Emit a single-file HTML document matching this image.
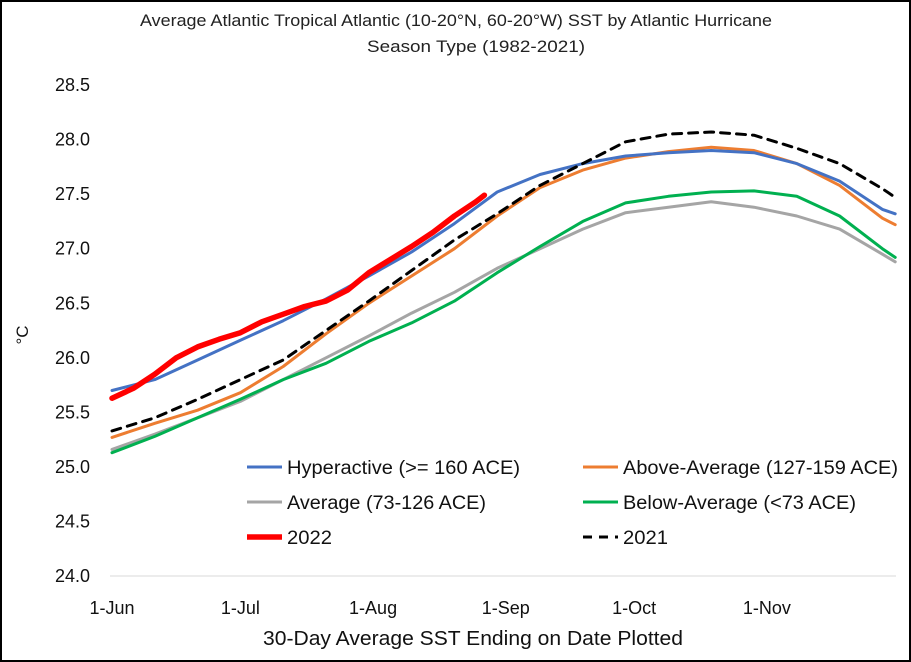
<!DOCTYPE html>
<html><head><meta charset="utf-8"><style>
html,body{margin:0;padding:0;background:#fff}
svg{display:block;font-family:"Liberation Sans",Calibri,sans-serif}
</style></head><body>
<svg id="chart" width="911" height="662" viewBox="0 0 911 662">
<rect x="1" y="1" width="909" height="660" fill="#fff" stroke="#000" stroke-width="2"/>
<text x="140" y="26" textLength="632" lengthAdjust="spacingAndGlyphs" font-size="16.5" fill="#222">Average Atlantic Tropical Atlantic (10-20°N, 60-20°W) SST by Atlantic Hurricane</text>
<text x="367" y="52" textLength="218" lengthAdjust="spacingAndGlyphs" font-size="16.5" fill="#222">Season Type (1982-2021)</text>
<g id="grid"></g><g id="ylabels"></g><g id="xlabels"></g><g id="series"></g>
<text x="0" y="0" transform="translate(28,335) rotate(-90)" text-anchor="middle" font-size="17" fill="#111">°C</text>
<text x="263" y="645" textLength="420" lengthAdjust="spacingAndGlyphs" font-size="20" fill="#111">30-Day Average SST Ending on Date Plotted</text>
<g id="legend"></g>
</svg>
<script>
const yTicks=[24.0,24.5,25.0,25.5,26.0,26.5,27.0,27.5,28.0,28.5];
const xTickDays=[0,30,61,92,122,153];
const xTickLabels=["1-Jun","1-Jul","1-Aug","1-Sep","1-Oct","1-Nov"];
const days=[0,10,20,30,40,50,60,70,80,90,100,110,120,130,140,150,160,170,180,183];
const hyperactive=[25.70,25.80,25.98,26.16,26.34,26.54,26.75,26.97,27.23,27.52,27.68,27.78,27.85,27.88,27.90,27.88,27.78,27.62,27.36,27.32];
const aboveAvg=[25.27,25.40,25.52,25.68,25.92,26.22,26.50,26.75,27.00,27.30,27.56,27.72,27.83,27.89,27.93,27.90,27.78,27.58,27.28,27.22];
const average=[25.16,25.30,25.45,25.60,25.80,26.00,26.20,26.41,26.60,26.82,27.00,27.18,27.33,27.38,27.43,27.38,27.30,27.18,26.95,26.88];
const belowAvg=[25.13,25.28,25.45,25.62,25.80,25.95,26.15,26.32,26.52,26.78,27.02,27.25,27.42,27.48,27.52,27.53,27.48,27.30,27.00,26.92];
const y2021=[25.33,25.45,25.62,25.80,25.98,26.25,26.52,26.80,27.08,27.32,27.58,27.78,27.98,28.05,28.07,28.04,27.92,27.78,27.55,27.47];
const days2022=[0,5,10,15,20,25,30,35,40,45,50,55,60,65,70,75,80,85,87];
const y2022=[25.63,25.72,25.85,26.00,26.10,26.17,26.23,26.33,26.40,26.47,26.52,26.62,26.78,26.90,27.02,27.15,27.30,27.43,27.49];

const NS="http://www.w3.org/2000/svg";
const X=d=>112+d*4.28;
const Y=v=>576-(v-24)*109.1;
function mk(tag,attrs,parent,text){const e=document.createElementNS(NS,tag);for(const k in attrs)e.setAttribute(k,attrs[k]);if(text!==undefined)e.textContent=text;parent.appendChild(e);return e;}
const grid=document.getElementById('grid'),yl=document.getElementById('ylabels'),xl=document.getElementById('xlabels'),ser=document.getElementById('series'),leg=document.getElementById('legend');
yTicks.forEach(v=>{
  if(v===24.0){const g=mk('line',{x1:110,x2:896,y1:Y(v),y2:Y(v),stroke:'#d9d9d9','stroke-width':1},grid);
  
  }
  const t=mk('text',{x:90,y:Y(v)+6,'text-anchor':'end','font-size':18,fill:'#111'},yl,v.toFixed(1));
  
  
});
xTickDays.forEach((d,i)=>{
  const t=mk('text',{x:X(d),y:614,'text-anchor':'middle','font-size':18,fill:'#111'},xl,xTickLabels[i]);
  
  
});
function line(xs,ys,color,w,dash,name){
  const pts=xs.map((d,i)=>X(d).toFixed(1)+','+Y(ys[i]).toFixed(1)).join(' ');
  const p=mk('polyline',{points:pts,fill:'none',stroke:color,'stroke-width':w,'stroke-linejoin':'round','stroke-linecap':'round'},ser);
  if(dash)p.setAttribute('stroke-dasharray',dash);
  
  
}
line(days,average,'#a5a5a5',3,null,'series-average');
line(days,belowAvg,'#00b050',3,null,'series-below-average');
line(days,aboveAvg,'#ed7d31',3,null,'series-above-average');
line(days,hyperactive,'#4472c4',3,null,'series-hyperactive');
line(days,y2021,'#000',3,'9,7','series-2021');
line(days2022,y2022,'#ff0000',5.5,null,'series-2022');
const legItems=[
 [247,467,'#4472c4',3,null,'Hyperactive (>= 160 ACE)','legend-hyperactive',233],
 [583,467,'#ed7d31',3,null,'Above-Average (127-159 ACE)','legend-above-average',275],
 [247,502,'#a5a5a5',3,null,'Average (73-126 ACE)','legend-average',199],
 [583,502,'#00b050',3,null,'Below-Average (<73 ACE)','legend-below-average',233],
 [247,537,'#ff0000',5.5,null,'2022','legend-2022',45],
 [583,537,'#000',3,'9,7','2021','legend-2021',45]];
legItems.forEach(it=>{
  const g=mk('g',{},leg);
  
  
  const l=mk('line',{x1:it[0],x2:it[0]+35,y1:it[1],y2:it[1],stroke:it[2],'stroke-width':it[3]},g);
  if(it[4])l.setAttribute('stroke-dasharray',it[4]);
  mk('text',{x:it[0]+40,y:it[1]+7,'font-size':19,fill:'#111',textLength:it[7],lengthAdjust:'spacingAndGlyphs'},g,it[5]);
});
</script>
</body></html>
